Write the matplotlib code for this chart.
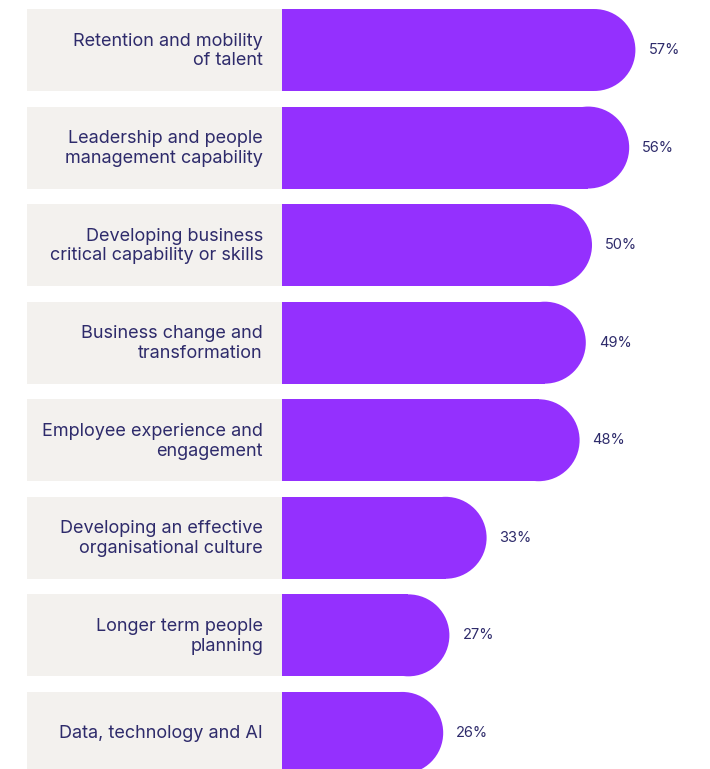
# Priority areas - horizontal pill bars with label panel

import matplotlib.pyplot as plt
from matplotlib.patches import Rectangle, Ellipse

# categories and share of respondents (%)
categories = [
    'Retention and mobility\nof talent',
    'Leadership and people\nmanagement capability',
    'Developing business\ncritical capability or skills',
    'Business change and\ntransformation',
    'Employee experience and\nengagement',
    'Developing an effective\norganisational culture',
    'Longer term people\nplanning',
    'Data, technology and AI',
]
values = [57, 56, 50, 49, 48, 33, 27, 26]

purple = '#9430fe'
panel = '#f3f1ee'
ink = '#2e2b6b'

fig = plt.figure(figsize=(7.1, 7.69), dpi=100)
ax = fig.add_axes([0, 0, 1, 1])

# scale: one percent is about 6.2 px wide, bars start 282 px in
ppu = 6.2
ax.set_xlim(-282 / ppu, 428 / ppu)
ax.set_ylim(7.37, -0.5125)
ax.axis('off')

bar_h = 0.84
panel_w = 255 / ppu
cap_w = 41 / ppu  # horizontal radius of the rounded end

for i, (label, v) in enumerate(zip(categories, values)):
    # grey label panel on the left
    ax.add_patch(Rectangle((-panel_w, i - bar_h / 2), panel_w, bar_h,
                           facecolor=panel, edgecolor='none'))
    # straight part of the bar plus a half-ellipse cap
    ax.add_patch(Rectangle((0, i - bar_h / 2), v - cap_w, bar_h,
                           facecolor=purple, edgecolor='none'))
    ax.add_patch(Ellipse((v - cap_w, i), 2 * cap_w, bar_h,
                         facecolor=purple, edgecolor='none'))
    # category label, right aligned in the panel
    ax.text(-19 / ppu, i + 0.01, label, ha='right', va='center', fontsize=13,
            color=ink, family='Inter', linespacing=1.2)
    # value label after the bar
    ax.text(v + 13 / ppu, i, f'{v}%', ha='left', va='center', fontsize=10.5,
            color=ink, family='Inter')

fig.savefig('out.png', dpi=100, facecolor='white')
